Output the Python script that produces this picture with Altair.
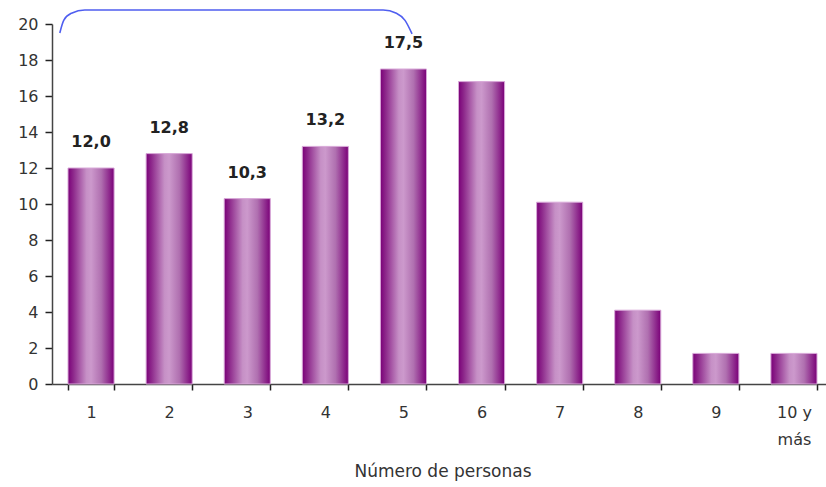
import altair as alt
import pandas as pd

# Household size distribution (%)
categories = ["1", "2", "3", "4", "5", "6", "7", "8", "9", "10 y más"]
values = [12.0, 12.8, 10.3, 13.2, 17.5, 16.8, 10.1, 4.1, 1.7, 1.7]
labelled = 5  # the first five bars carry a value label

# Bracket over categories 1-5 (x in band units, y in data units)
bracket_x = [0.10, 0.15, 0.25, 0.42, 4.24, 4.41, 4.52, 4.61]
bracket_y = [19.50, 20.20, 20.60, 20.78, 20.78, 20.60, 20.20, 19.45]

FONT = "DejaVu Sans"
W, H = 774, 360
X_RANGE = [0, 781]

bars_df = pd.DataFrame({
    "cat": categories,
    "val": values,
    "lab": [f"{v:.1f}".replace(".", ",") if i < labelled else "" for i, v in enumerate(values)],
})
bracket_df = pd.DataFrame({"bx": bracket_x, "by": bracket_y})

band_scale = alt.Scale(range=X_RANGE, paddingInner=0.41, paddingOuter=0.205)

x_band = alt.X(
    "cat:N",
    sort=categories,
    scale=band_scale,
    axis=alt.Axis(
        title="Número de personas",
        labelAngle=0,
        labelFont=FONT,
        labelFontSize=16,
        labelColor="#333333",
        labelPadding=14,
        labelLineHeight=27,
        labelExpr="datum.label == '10 y más' ? ['10 y', 'más'] : datum.label",
        tickBand="extent",
        tickSize=6,
        tickColor="#222222",
        tickWidth=1.5,
        domainColor="#444444",
        domainWidth=1.5,
        titleFont=FONT,
        titleFontSize=17,
        titleFontWeight="normal",
        titleColor="#333333",
        titlePadding=16,
    ),
)

y_scale = alt.Scale(domain=[0, 20], nice=False, zero=True)
y_axis = alt.Axis(
    title=None,
    values=list(range(0, 21, 2)),
    labelOverlap=False,
    grid=False,
    labelFont=FONT,
    labelFontSize=16,
    labelColor="#333333",
    labelPadding=7,
    tickSize=7,
    tickColor="#222222",
    tickWidth=1.5,
    domainColor="#444444",
    domainWidth=1.5,
)

bar_fill = alt.Gradient(
    gradient="linear",
    x1=0, x2=1, y1=0, y2=0,
    stops=[
        alt.GradientStop(color="#7a0078", offset=0),
        alt.GradientStop(color="#8e2a8c", offset=0.12),
        alt.GradientStop(color="#c690c6", offset=0.40),
        alt.GradientStop(color="#cc99cc", offset=0.50),
        alt.GradientStop(color="#b070b0", offset=0.72),
        alt.GradientStop(color="#7a0078", offset=1),
    ],
)

bars = alt.Chart(bars_df).mark_bar(
    color=bar_fill, stroke="#d8a8d8", strokeWidth=1
).encode(
    x=x_band,
    y=alt.Y("val:Q", scale=y_scale, axis=y_axis),
)

text = alt.Chart(bars_df).mark_text(
    font=FONT, fontSize=16, fontWeight="bold", color="#222222",
    dy=-18, baseline="bottom",
).encode(
    x=alt.X("cat:N", sort=categories, scale=band_scale, axis=None),
    y=alt.Y("val:Q", scale=y_scale, axis=y_axis),
    text="lab:N",
)

bracket = alt.Chart(bracket_df).mark_line(
    color="#4f5ef0", strokeWidth=1.6, interpolate="monotone", clip=False
).encode(
    x=alt.X("bx:Q", scale=alt.Scale(domain=[0, 10], range=X_RANGE, nice=False, zero=False), axis=None),
    y=alt.Y("by:Q", scale=y_scale, axis=y_axis),
    order=alt.Order("bx:Q"),
)

chart = (
    alt.layer(bars, text, bracket)
    .resolve_scale(x="independent")
    .properties(
        width=W,
        height=H,
        background="white",
        autosize=alt.AutoSizeParams(type="none"),
        padding={"left": 52, "top": 24, "right": 0, "bottom": 103},
    )
    .configure_view(stroke=None, strokeWidth=0)
    .configure_axis(grid=False)
)

chart.save("out.html", embed_options={"renderer": "svg", "actions": False})
